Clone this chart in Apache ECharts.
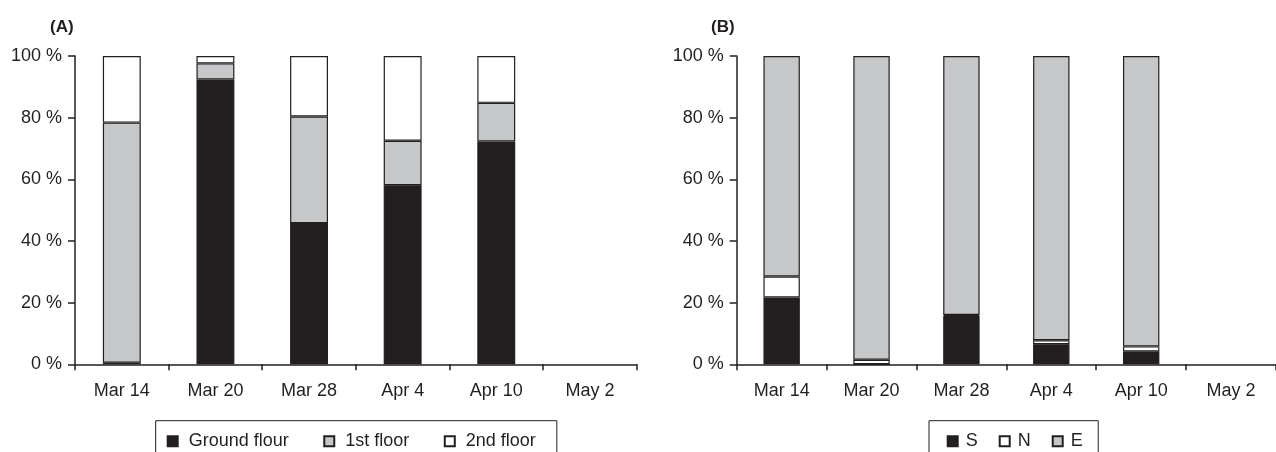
<!DOCTYPE html>
<html>
<head>
<meta charset="utf-8">
<script src="https://cdn.jsdelivr.net/npm/echarts@6/dist/echarts.min.js"></script>
<style>
html,body{margin:0;padding:0;background:#fff;}
#c{width:1276px;height:452px;}
</style>
</head>
<body>
<div id="c"></div>
<script>
var categories = ['Mar 14', 'Mar 20', 'Mar 28', 'Apr 4', 'Apr 10', 'May 2'];
var groundFloor = [0.5, 92.4, 45.8, 58.1, 72.3, null];
var firstFloor = [77.9, 5.2, 34.6, 14.4, 12.5, null];
var secondFloor = [21.6, 2.4, 19.6, 27.5, 15.2, null];
var sValues = [21.7, 0, 15.7, 6.5, 4.2, null];
var nValues = [6.8, 1.5, 0.3, 1.3, 1.6, null];
var eValues = [71.5, 98.5, 84.0, 92.2, 94.2, null];
var yTicks = [0, 20, 40, 60, 80, 100];

var INK = '#231f20';
var FONT = 'Liberation Sans';
var BLACK = '#231f20', GREY = '#c6c7c9', WHITE = '#ffffff';

function xAxisFor(grid) {
  return {
    type: 'category', gridIndex: grid, data: categories,
    axisLine: {show: true, lineStyle: {color: INK, width: 1.5}},
    axisTick: {show: true, length: 6, interval: 0, lineStyle: {color: INK, width: 1.5}},
    axisLabel: {color: INK, fontFamily: FONT, fontSize: 18, margin: 18, interval: 0},
    splitLine: {show: false}
  };
}
function yAxisFor(grid) {
  return {
    type: 'value', gridIndex: grid, min: yTicks[0], max: yTicks[yTicks.length - 1], interval: yTicks[1] - yTicks[0],
    axisLine: {show: true, lineStyle: {color: INK, width: 1.5}},
    axisTick: {show: true, length: 7, lineStyle: {color: INK, width: 1.5}},
    axisLabel: {color: INK, fontFamily: FONT, fontSize: 18, margin: 13, formatter: '{value} %'},
    splitLine: {show: false}
  };
}
function bar(name, data, color, idx) {
  return {
    name: name, type: 'bar', stack: 'st' + idx, xAxisIndex: idx, yAxisIndex: idx,
    data: data, barWidth: '40.5%',
    itemStyle: {color: color, borderColor: INK, borderWidth: 1.2},
    emphasis: {disabled: true}, animation: false
  };
}
var legendText = {color: INK, fontFamily: FONT, fontSize: 18, lineHeight: 20};

var chart = echarts.init(document.getElementById('c'), null, {renderer: 'canvas'});
chart.setOption({
  animation: false,
  backgroundColor: '#fff',
  title: [
    {text: '(A)', left: 50, top: 18.5, padding: 0, textStyle: {color: INK, fontFamily: FONT, fontSize: 17, fontWeight: 'bold'}},
    {text: '(B)', left: 711, top: 18.5, padding: 0, textStyle: {color: INK, fontFamily: FONT, fontSize: 17, fontWeight: 'bold'}}
  ],
  grid: [
    {left: 75, top: 56, width: 561.7, height: 308.3},
    {left: 736.7, top: 56, width: 549.6, height: 308.3}
  ],
  xAxis: [xAxisFor(0), xAxisFor(1)],
  yAxis: [yAxisFor(0), yAxisFor(1)],
  legend: [
    {data: ['Ground flour', '1st floor', '2nd floor'], left: 155.7, top: 420.7, orient: 'horizontal',
     itemWidth: 10, itemHeight: 10, itemGap: 34.5, icon: 'rect',
     padding: [10.5, 21, 20, 11], borderColor: INK, borderWidth: 1,
     textStyle: Object.assign({padding: [0, 0, 0, 6]}, legendText), selectedMode: false},
    {data: ['S', 'N', 'E'], left: 929, top: 420.7, orient: 'horizontal',
     itemWidth: 10, itemHeight: 10, itemGap: 21, icon: 'rect',
     padding: [10.5, 15.5, 20, 17.7], borderColor: INK, borderWidth: 1,
     textStyle: Object.assign({padding: [0, 0, 0, 3]}, legendText), selectedMode: false}
  ],
  series: [
    bar('Ground flour', groundFloor, BLACK, 0),
    bar('1st floor', firstFloor, GREY, 0),
    bar('2nd floor', secondFloor, WHITE, 0),
    bar('S', sValues, BLACK, 1),
    bar('N', nValues, WHITE, 1),
    bar('E', eValues, GREY, 1)
  ]
});
</script>
</body>
</html>
